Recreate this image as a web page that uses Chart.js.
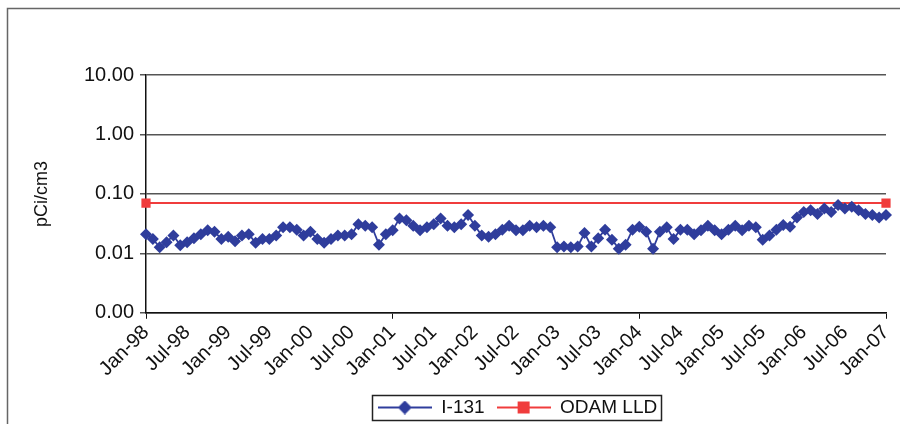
<!DOCTYPE html>
<html lang="en">
<head>
  <meta charset="UTF-8">
  <title>I-131</title>
  <script src="https://cdn.jsdelivr.net/npm/chart.js"></script>
  <style>
    body { margin: 0; background: #fff; }
    #wrap { width: 900px; height: 424px; }
  </style>
</head>
<body>
  <div id="wrap"><canvas id="chart" width="900" height="424"></canvas></div>

  <script>
    // data
    const monthNames = ['Jan', 'Feb', 'Mar', 'Apr', 'May', 'Jun', 'Jul', 'Aug', 'Sep', 'Oct', 'Nov', 'Dec'];
    const years = ['98', '99', '00', '01', '02', '03', '04', '05', '06', '07'];
    const i131 = [
      0.021, 0.0175, 0.0126, 0.0153, 0.020, 0.0137, 0.0153, 0.018, 0.021, 0.0245, 0.023, 0.0175,
      0.019, 0.016, 0.020, 0.021, 0.015, 0.0175, 0.0175, 0.020, 0.0275, 0.0275, 0.025, 0.020,
      0.023, 0.0175, 0.015, 0.0175, 0.020, 0.020, 0.021, 0.031, 0.029, 0.0275, 0.014, 0.021,
      0.0245, 0.0385, 0.036, 0.029, 0.0245, 0.0275, 0.031, 0.0385, 0.029, 0.0275, 0.031, 0.044,
      0.029, 0.020, 0.019, 0.021, 0.025, 0.029, 0.0245, 0.0245, 0.029, 0.0275, 0.029, 0.0275,
      0.0126, 0.013, 0.0126, 0.013, 0.022, 0.013, 0.018, 0.025, 0.017, 0.012, 0.014, 0.025,
      0.028, 0.023, 0.012, 0.023, 0.0275, 0.0175, 0.025, 0.025, 0.021, 0.0245, 0.029, 0.0245,
      0.021, 0.025, 0.029, 0.0245, 0.029, 0.0275, 0.017, 0.020, 0.025, 0.030, 0.028, 0.040,
      0.0495, 0.053, 0.046, 0.057, 0.0495, 0.065, 0.057, 0.061, 0.053, 0.046, 0.044, 0.040,
      0.044
    ];
    const lldLevel = [0.07, 0.07];          // ODAM LLD, first and last month
    const yTicks = [0.001, 0.01, 0.1, 1, 10];

    const months = [];
    years.forEach(y => monthNames.forEach(m => months.push(m + '-' + y)));
    months.length = i131.length;            // Jan-98 .. Jan-07

    const blue = '#2f3d9c';
    const red = '#f03c3c';
    const font = 'Liberation Sans';

    // little line+marker images for the legend
    function legendIcon(color, style) {
      const c = document.createElement('canvas');
      c.width = 54; c.height = 14;
      const g = c.getContext('2d');
      g.strokeStyle = color; g.lineWidth = 2;
      g.beginPath(); g.moveTo(0, 7); g.lineTo(54, 7); g.stroke();
      g.fillStyle = color;
      if (style === 'diamond') {
        g.beginPath(); g.moveTo(27, 0); g.lineTo(34, 7); g.lineTo(27, 14); g.lineTo(20, 7); g.closePath(); g.fill();
      } else {
        g.fillRect(21, 1, 12, 12);
      }
      return c;
    }

    const framePlugin = {
      id: 'frame',
      afterLayout(chart) {
        // legend sits under the plot area, not the whole canvas
        const lg = chart.legend;
        lg.left += 61; lg.right += 61;
        lg.top += 3; lg.bottom += 3;
      },
      beforeDraw(chart) {
        const ctx = chart.ctx;
        ctx.save();
        ctx.fillStyle = '#fff';
        ctx.fillRect(0, 0, chart.width, chart.height);
        ctx.strokeStyle = '#666';
        ctx.lineWidth = 1.5;
        ctx.beginPath();
        ctx.moveTo(7.5, chart.height);
        ctx.lineTo(7.5, 8.5);
        ctx.lineTo(chart.width, 8.5);
        ctx.stroke();
        ctx.restore();
      },
      afterDraw(chart) {
        const boxes = chart.legend.legendHitBoxes;
        if (!boxes || !boxes.length) return;
        const l = Math.min(...boxes.map(b => b.left)) - 6;
        const r = Math.max(...boxes.map(b => b.left + b.width)) + 4;
        const t = Math.min(...boxes.map(b => b.top)) - 3;
        const btm = Math.max(...boxes.map(b => b.top + b.height)) + 3;
        const ctx = chart.ctx;
        ctx.save();
        ctx.strokeStyle = '#222';
        ctx.lineWidth = 1.5;
        ctx.strokeRect(Math.round(l) + 0.5, Math.round(t) + 0.5, Math.round(r - l), Math.round(btm - t));
        ctx.restore();
      }
    };

    new Chart(document.getElementById('chart'), {
      type: 'line',
      data: {
        labels: months,
        datasets: [{
          label: 'I-131',
          data: i131,
          borderColor: blue,
          backgroundColor: blue,
          borderWidth: 1.8,
          pointStyle: 'rectRot',
          pointRadius: 6,
          pointBorderWidth: 0,
          tension: 0
        }, {
          label: 'ODAM LLD',
          data: [{ x: months[0], y: lldLevel[0] }, { x: months[months.length - 1], y: lldLevel[1] }],
          borderColor: red,
          backgroundColor: red,
          borderWidth: 2,
          pointStyle: 'rect',
          pointRadius: 6.5,
          pointBorderWidth: 0
        }]
      },
      options: {
        responsive: false,
        animation: false,
        layout: { padding: { left: 27, right: 14, top: 75, bottom: 0 } },
        plugins: {
          tooltip: { enabled: false },
          legend: {
            position: 'bottom',
            labels: {
              color: '#111',
              font: { family: font, size: 19 },
              usePointStyle: true,
              pointStyleWidth: 54,
              boxHeight: 14,
              padding: 12,
              generateLabels: () => [
                { text: 'I-131', pointStyle: legendIcon(blue, 'diamond'), fontColor: '#111', lineWidth: 0, strokeStyle: 'transparent', fillStyle: 'transparent' },
                { text: 'ODAM LLD', pointStyle: legendIcon(red, 'square'), fontColor: '#111', lineWidth: 0, strokeStyle: 'transparent', fillStyle: 'transparent' }
              ]
            }
          }
        },
        scales: {
          x: {
            offset: false,
            afterFit: s => { s.paddingRight = 0; },
            border: { color: '#111', width: 1.5 },
            grid: {
              drawOnChartArea: false,
              tickLength: 6,
              color: ctx => (ctx.index % 6 === 0 ? '#111' : 'transparent')
            },
            ticks: {
              autoSkip: false,
              minRotation: 45,
              maxRotation: 45,
              padding: 2,
              color: '#111',
              font: { family: font, size: 20 },
              callback: (v, i) => (i % 6 === 0 ? months[i] : null)
            }
          },
          y: {
            type: 'logarithmic',
            min: 0.001,
            max: 10,
            afterBuildTicks: s => { s.ticks = yTicks.map(v => ({ value: v })); },
            afterFit: s => { s.width = 119; },
            border: { color: '#111', width: 1.5 },
            grid: { color: '#555', lineWidth: 1.5, tickLength: 6 },
            ticks: {
              color: '#111',
              padding: 6,
              font: { family: font, size: 20 },
              callback: v => Number(v).toFixed(2)
            },
            title: {
              display: true,
              text: 'pCi/cm3',
              color: '#111',
              font: { family: font, size: 18 }
            }
          }
        }
      },
      plugins: [framePlugin]
    });
  </script>
</body>
</html>
